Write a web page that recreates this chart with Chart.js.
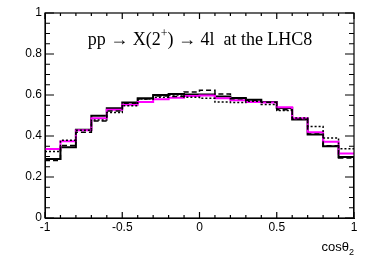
<!DOCTYPE html>
<html>
<head>
<meta charset="utf-8">
<script src="https://cdn.jsdelivr.net/npm/chart.js@4/dist/chart.umd.min.js"></script>
<style>
  html, body { margin: 0; padding: 0; background: #fff; }
  canvas { display: block; }
</style>
</head>
<body>
<canvas id="chart" width="374" height="257"></canvas>
<script>
// bin edges of cos(theta2)
const edges = [-1, -0.9, -0.8, -0.7, -0.6, -0.5, -0.4, -0.3, -0.2, -0.1, 0,
               0.1, 0.2, 0.3, 0.4, 0.5, 0.6, 0.7, 0.8, 0.9, 1];

// histogram contents per bin
const solidBlack = [0.288, 0.345, 0.431, 0.499, 0.535, 0.563, 0.584, 0.600, 0.605, 0.602,
                    0.603, 0.593, 0.585, 0.577, 0.566, 0.537, 0.480, 0.407, 0.350, 0.298];
const magenta    = [0.337, 0.374, 0.428, 0.486, 0.528, 0.553, 0.566, 0.579, 0.587, 0.595,
                    0.598, 0.584, 0.574, 0.566, 0.563, 0.540, 0.486, 0.418, 0.372, 0.315];
const dashed     = [0.281, 0.354, 0.418, 0.473, 0.522, 0.560, 0.580, 0.595, 0.593, 0.615,
                    0.623, 0.605, 0.582, 0.574, 0.565, 0.528, 0.482, 0.410, 0.352, 0.293];
const dotted     = [0.325, 0.379, 0.428, 0.478, 0.515, 0.548, 0.580, 0.589, 0.600, 0.589,
                    0.584, 0.566, 0.564, 0.570, 0.554, 0.525, 0.488, 0.446, 0.390, 0.338];

const xTicks = [-1, -0.5, 0, 0.5, 1];
const yTicks = [0, 0.2, 0.4, 0.6, 0.8, 1];

const titleText = 'pp \u2192 X(2';
const titleSup = '+';
const titleRest = ') \u2192 4l  at the LHC8';

// turn bin contents into step points (value applies from the bin's low edge)
function histPoints(values, dropToZero) {
    const pts = values.map((v, i) => ({ x: edges[i], y: v }));
    pts.push({ x: edges[edges.length - 1], y: dropToZero ? 0 : values[values.length - 1] });
    return pts;
}

function fmt(v) {
    return String(Math.round(v * 10) / 10);
}

// inward ticks on all four sides, title and x axis title
const rootPlugin = {
    id: 'rootStyle',
    afterDraw(chart) {
        const c = chart.ctx;
        const a = chart.chartArea;
        const xs = chart.scales.x, ys = chart.scales.y;
        c.save();
        c.setLineDash([]);
        c.strokeStyle = '#000';
        c.lineWidth = 1.2;
        c.strokeRect(a.left, a.top, a.right - a.left, a.bottom - a.top);
        c.beginPath();
        for (let i = -10; i <= 10; i++) {
            const len = (i % 5 === 0) ? 6 : 3;
            const px = xs.getPixelForValue(i / 10);
            c.moveTo(px, a.bottom); c.lineTo(px, a.bottom - len);
            c.moveTo(px, a.top); c.lineTo(px, a.top + len);
        }
        for (let i = 0; i <= 20; i++) {
            const len = (i % 4 === 0) ? 9 : 5;
            const py = ys.getPixelForValue(i / 20);
            c.moveTo(a.left, py); c.lineTo(a.left + len, py);
            c.moveTo(a.right, py); c.lineTo(a.right - len, py);
        }
        c.stroke();

        c.fillStyle = '#000';
        c.textBaseline = 'alphabetic';
        const big = '18px "Liberation Serif", "Times New Roman", serif';
        const small = '12px "Liberation Serif", "Times New Roman", serif';
        c.font = big;
        const w1 = c.measureText(titleText).width;
        const w3 = c.measureText(titleRest).width;
        c.font = small;
        const w2 = c.measureText(titleSup).width;
        let tx = 200 - (w1 + w2 + w3) / 2;
        const ty = 45;
        c.font = big;
        c.fillText(titleText, tx, ty);
        tx += w1;
        c.font = small;
        c.fillText(titleSup, tx, ty - 8);
        tx += w2;
        c.font = big;
        c.fillText(titleRest, tx, ty);

        c.textAlign = 'right';
        c.font = '9px "Liberation Sans", Arial, sans-serif';
        const ws = c.measureText('2').width;
        c.fillText('2', a.right, 255);
        c.font = '13px "Liberation Sans", Arial, sans-serif';
        c.fillText('cos\u03b8', a.right - ws, 251);
        c.restore();
    }
};

new Chart(document.getElementById('chart'), {
    type: 'line',
    data: {
        datasets: [
            {
                label: 'dotted',
                data: histPoints(dotted, false),
                borderColor: '#000',
                borderWidth: 1.5,
                segment: { borderDash: () => [2, 2] },
                stepped: 'before',
                pointRadius: 0,
                fill: false
            },
            {
                label: 'dashed',
                data: histPoints(dashed, false),
                borderColor: '#000',
                borderWidth: 1.5,
                segment: { borderDash: () => [5, 3] },
                stepped: 'before',
                pointRadius: 0,
                fill: false
            },
            {
                label: 'magenta',
                data: histPoints(magenta, false),
                borderColor: '#ff00ff',
                borderWidth: 2,
                stepped: 'before',
                pointRadius: 0,
                fill: false
            },
            {
                label: 'solid',
                data: histPoints(solidBlack, true),
                borderColor: '#000',
                borderWidth: 2,
                stepped: 'before',
                pointRadius: 0,
                fill: false
            }
        ]
    },
    options: {
        responsive: false,
        animation: false,
        events: [],
        layout: { padding: { top: 13, right: 20, left: 0, bottom: 0 } },
        plugins: {
            legend: { display: false },
            tooltip: { enabled: false }
        },
        scales: {
            x: {
                type: 'linear',
                min: -1,
                max: 1,
                afterBuildTicks(scale) { scale.ticks = xTicks.map(v => ({ value: v })); },
                afterFit(scale) { scale.height = 39; },
                grid: { display: false, drawTicks: false },
                border: { display: true, color: '#000', width: 1 },
                ticks: {
                    color: '#000',
                    padding: 2,
                    maxRotation: 0,
                    autoSkip: false,
                    font: { family: '"Liberation Sans", Arial, sans-serif', size: 12 },
                    callback: v => fmt(v)
                }
            },
            y: {
                min: 0,
                max: 1,
                afterBuildTicks(scale) { scale.ticks = yTicks.map(v => ({ value: v })); },
                afterFit(scale) { scale.width = 45; },
                grid: { display: false, drawTicks: false },
                border: { display: true, color: '#000', width: 1 },
                ticks: {
                    color: '#000',
                    padding: 3,
                    autoSkip: false,
                    font: { family: '"Liberation Sans", Arial, sans-serif', size: 12 },
                    callback: v => fmt(v)
                }
            }
        }
    },
    plugins: [rootPlugin]
});
</script>
</body>
</html>
